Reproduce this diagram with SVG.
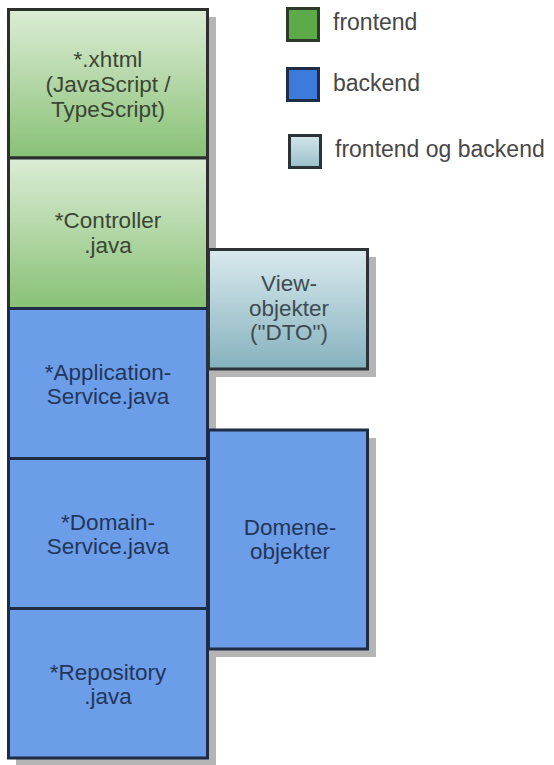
<svg xmlns="http://www.w3.org/2000/svg" width="554" height="765" viewBox="0 0 554 765">
<defs>
<linearGradient id="gGreen" x1="0" y1="0" x2="0" y2="1"><stop offset="0" stop-color="#dcecd5"/><stop offset="1" stop-color="#88c176"/></linearGradient>
<linearGradient id="gTeal" x1="0" y1="0" x2="0" y2="1"><stop offset="0" stop-color="#d9e9ed"/><stop offset="1" stop-color="#85b2be"/></linearGradient>
<linearGradient id="gTealL" x1="0" y1="0" x2="0" y2="1"><stop offset="0" stop-color="#d3e5ea"/><stop offset="1" stop-color="#99c0ca"/></linearGradient>
</defs>
<style>
.sh{fill:#b5b5b5}
.gr{fill:url(#gGreen);stroke:#2c302c;stroke-width:3}
.bl{fill:#6c9de9;stroke:#1f2c45;stroke-width:3}
.tl{fill:url(#gTeal);stroke:#2c3236;stroke-width:3}
text{font-family:"Liberation Sans",Arial,sans-serif;font-size:22.5px;text-anchor:middle}
.tg{fill:#3a4634}
.tb{fill:#22365a}
.tt{fill:#3e4c52}
.lg{text-anchor:start;fill:#474747;font-size:23px}
</style>
<rect width="554" height="765" fill="#fff"/>
<g id="shadows">
<rect class="sh" x="16" y="17" width="200" height="749"/>
<rect class="sh" x="216" y="257" width="160" height="120"/>
<rect class="sh" x="216" y="438" width="160" height="219"/>
</g>
<g id="connectors"></g>
<g id="xhtml"><rect class="gr" x="8.5" y="9.5" width="199" height="148.5"/>
<text class="tg" x="108" y="67">*.xhtml</text><text class="tg" x="108" y="92">(JavaScript /</text><text class="tg" x="108" y="117">TypeScript)</text></g>
<g id="controller"><rect class="gr" x="8.5" y="158" width="199" height="150.5"/>
<text class="tg" x="108" y="228">*Controller</text><text class="tg" x="108" y="253">.java</text></g>
<g id="appservice"><rect class="bl" x="8.5" y="308.5" width="199" height="150"/>
<text class="tb" x="108" y="380">*Application-</text><text class="tb" x="108" y="404">Service.java</text></g>
<g id="domainservice"><rect class="bl" x="8.5" y="458.5" width="199" height="150"/>
<text class="tb" x="108" y="530">*Domain-</text><text class="tb" x="108" y="554">Service.java</text></g>
<g id="repository"><rect class="bl" x="8.5" y="608.5" width="199" height="149.5"/>
<text class="tb" x="108" y="680">*Repository</text><text class="tb" x="108" y="704">.java</text></g>
<g id="view"><rect class="tl" x="208.5" y="249.5" width="159" height="119.5"/>
<text class="tt" x="289" y="291">View-</text><text class="tt" x="289" y="316">objekter</text><text class="tt" x="289" y="340">("DTO")</text></g>
<g id="domene"><rect class="bl" x="208.5" y="430" width="159" height="219"/>
<text class="tb" x="290" y="535">Domene-</text><text class="tb" x="290" y="559">objekter</text></g>
<g id="legend">
<rect x="287.5" y="8.5" width="31" height="32" fill="#5caa48" stroke="#2c3a2a" stroke-width="3"/>
<text class="lg" x="333" y="30">frontend</text>
<rect x="287.5" y="68.5" width="31" height="32" fill="#3c7bdb" stroke="#1f2c45" stroke-width="3"/>
<text class="lg" x="333" y="91">backend</text>
<rect x="289.5" y="135.5" width="31" height="32" fill="url(#gTealL)" stroke="#2c3236" stroke-width="3"/>
<text class="lg" x="335" y="157">frontend og backend</text>
</g>
</svg>
